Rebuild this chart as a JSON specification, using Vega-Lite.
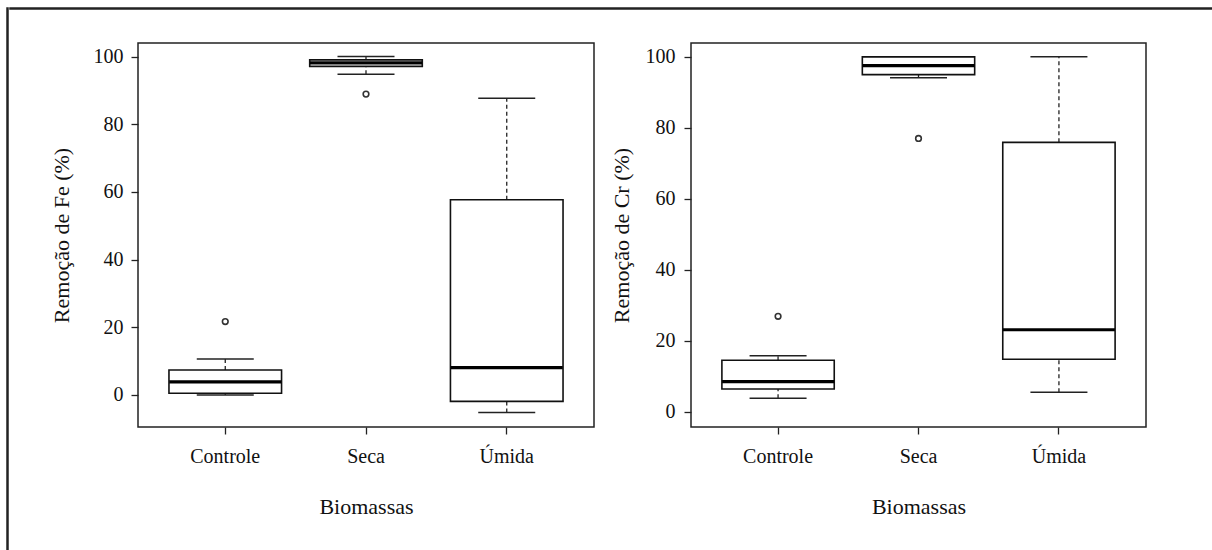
{
  "$schema": "https://vega.github.io/schema/vega-lite/v6.json",
  "padding": {"left": 6, "top": 7, "right": 0, "bottom": 0},
  "background": "white",
  "datasets": {
    "fe": [
      {"g": "Controle", "lower": 0, "q1": 0.5, "median": 3.9, "q3": 7.4, "upper": 10.6},
      {"g": "Seca", "lower": 94.8, "q1": 97.1, "median": 98.1, "q3": 99.0, "upper": 100},
      {"g": "Úmida", "lower": -5.2, "q1": -1.9, "median": 8.1, "q3": 57.7, "upper": 87.7}
    ],
    "fe_out": [
      {"g": "Controle", "v": 21.7},
      {"g": "Seca", "v": 88.9}
    ],
    "cr": [
      {"g": "Controle", "lower": 3.8, "q1": 6.4, "median": 8.5, "q3": 14.5, "upper": 15.8},
      {"g": "Seca", "lower": 94.1, "q1": 95.0, "median": 97.5, "q3": 100, "upper": 100},
      {"g": "Úmida", "lower": 5.5, "q1": 14.8, "median": 23.1, "q3": 75.9, "upper": 100}
    ],
    "cr_out": [
      {"g": "Controle", "v": 26.9},
      {"g": "Seca", "v": 77.0}
    ],
    "empty": []
  },
  "config": {
    "view": {"stroke": "#222", "strokeWidth": 1.5},
    "tick": {"opacity": 1},
    "point": {"opacity": 1},
    "axis": {
      "labelFont": "Liberation Serif",
      "titleFont": "Liberation Serif",
      "labelFontSize": 20,
      "titleFontSize": 22,
      "titleFontWeight": "normal",
      "labelColor": "#111",
      "titleColor": "#111",
      "tickColor": "#222",
      "tickWidth": 1.3,
      "tickSize": 7,
      "domain": false,
      "grid": false
    }
  },
  "spacing": 0,
  "hconcat": [
    {
      "width": 1,
      "height": 545,
      "view": {"stroke": "#222", "strokeWidth": 1.5},
      "data": {"name": "empty"},
      "mark": "point",
      "encoding": {}
    },
    {
      "spacing": 32,
      "vconcat": [
        {
          "width": 1205,
          "height": 1,
          "view": {"stroke": "#222", "strokeWidth": 1.5},
          "data": {"name": "empty"},
          "mark": "point",
          "encoding": {}
        },
        {
          "spacing": 38,
          "hconcat": [
            {
              "width": 1,
              "height": 1,
              "view": {"stroke": null},
              "data": {"name": "empty"},
              "mark": "point",
              "encoding": {}
            },
            {
              "spacing": 14,
              "hconcat": [
                {
                  "width": 456,
                  "height": 384,
                  "encoding": {
                    "x": {
                      "field": "g", "type": "nominal",
                      "scale": {"type": "band", "domain": ["Controle", "Seca", "Úmida"], "paddingInner": 0, "paddingOuter": 0.12},
                      "axis": {"title": "Biomassas", "labelAngle": 0, "labelPadding": 12, "titlePadding": 30}
                    }
                  },
                  "layer": [
                    {
                      "data": {"name": "fe"},
                      "mark": {"type": "rule", "strokeDash": [4, 3], "color": "#222", "strokeWidth": 1.3},
                      "encoding": {
                        "y": {"field": "q3", "type": "quantitative", "scale": {"domain": [-9.46, 104.0], "nice": false, "zero": false},
                          "axis": {"title": "Remoção de Fe (%)", "values": [0, 20, 40, 60, 80, 100], "labelPadding": 8, "titlePadding": 20}},
                        "y2": {"field": "upper"}
                      }
                    },
                    {
                      "data": {"name": "fe"},
                      "mark": {"type": "rule", "strokeDash": [4, 3], "color": "#222", "strokeWidth": 1.3},
                      "encoding": {"y": {"field": "lower", "type": "quantitative"}, "y2": {"field": "q1"}}
                    },
                    {
                      "data": {"name": "fe"},
                      "mark": {"type": "tick", "size": 57, "thickness": 1.5, "color": "#222"},
                      "encoding": {"y": {"field": "upper", "type": "quantitative"}}
                    },
                    {
                      "data": {"name": "fe"},
                      "mark": {"type": "tick", "size": 57, "thickness": 1.5, "color": "#222"},
                      "encoding": {"y": {"field": "lower", "type": "quantitative"}}
                    },
                    {
                      "data": {"name": "fe"},
                      "mark": {"type": "bar", "width": {"band": 0.8}, "fill": "white", "stroke": "#111", "strokeWidth": 1.6},
                      "encoding": {"y": {"field": "q1", "type": "quantitative"}, "y2": {"field": "q3"}}
                    },
                    {
                      "data": {"name": "fe"},
                      "mark": {"type": "tick", "size": 112, "thickness": 3.2, "color": "#000"},
                      "encoding": {"y": {"field": "median", "type": "quantitative"}}
                    },
                    {
                      "data": {"name": "fe_out"},
                      "mark": {"type": "point", "shape": "circle", "filled": false, "size": 32, "color": "#333", "strokeWidth": 1.6},
                      "encoding": {"y": {"field": "v", "type": "quantitative"}}
                    }
                  ]
                },
                {
                  "width": 455,
                  "height": 384,
                  "encoding": {
                    "x": {
                      "field": "g", "type": "nominal",
                      "scale": {"type": "band", "domain": ["Controle", "Seca", "Úmida"], "paddingInner": 0, "paddingOuter": 0.12},
                      "axis": {"title": "Biomassas", "labelAngle": 0, "labelPadding": 12, "titlePadding": 30}
                    }
                  },
                  "layer": [
                    {
                      "data": {"name": "cr"},
                      "mark": {"type": "rule", "strokeDash": [4, 3], "color": "#222", "strokeWidth": 1.3},
                      "encoding": {
                        "y": {"field": "q3", "type": "quantitative", "scale": {"domain": [-4.3, 103.9], "nice": false, "zero": false},
                          "axis": {"title": "Remoção de Cr (%)", "values": [0, 20, 40, 60, 80, 100], "labelPadding": 9, "titlePadding": 12}},
                        "y2": {"field": "upper"}
                      }
                    },
                    {
                      "data": {"name": "cr"},
                      "mark": {"type": "rule", "strokeDash": [4, 3], "color": "#222", "strokeWidth": 1.3},
                      "encoding": {"y": {"field": "lower", "type": "quantitative"}, "y2": {"field": "q1"}}
                    },
                    {
                      "data": {"name": "cr"},
                      "mark": {"type": "tick", "size": 57, "thickness": 1.5, "color": "#222"},
                      "encoding": {"y": {"field": "upper", "type": "quantitative"}}
                    },
                    {
                      "data": {"name": "cr"},
                      "mark": {"type": "tick", "size": 57, "thickness": 1.5, "color": "#222"},
                      "encoding": {"y": {"field": "lower", "type": "quantitative"}}
                    },
                    {
                      "data": {"name": "cr"},
                      "mark": {"type": "bar", "width": {"band": 0.8}, "fill": "white", "stroke": "#111", "strokeWidth": 1.6},
                      "encoding": {"y": {"field": "q1", "type": "quantitative"}, "y2": {"field": "q3"}}
                    },
                    {
                      "data": {"name": "cr"},
                      "mark": {"type": "tick", "size": 112, "thickness": 3.2, "color": "#000"},
                      "encoding": {"y": {"field": "median", "type": "quantitative"}}
                    },
                    {
                      "data": {"name": "cr_out"},
                      "mark": {"type": "point", "shape": "circle", "filled": false, "size": 32, "color": "#333", "strokeWidth": 1.6},
                      "encoding": {"y": {"field": "v", "type": "quantitative"}}
                    }
                  ]
                }
              ]
            }
          ]
        }
      ]
    }
  ]
}
